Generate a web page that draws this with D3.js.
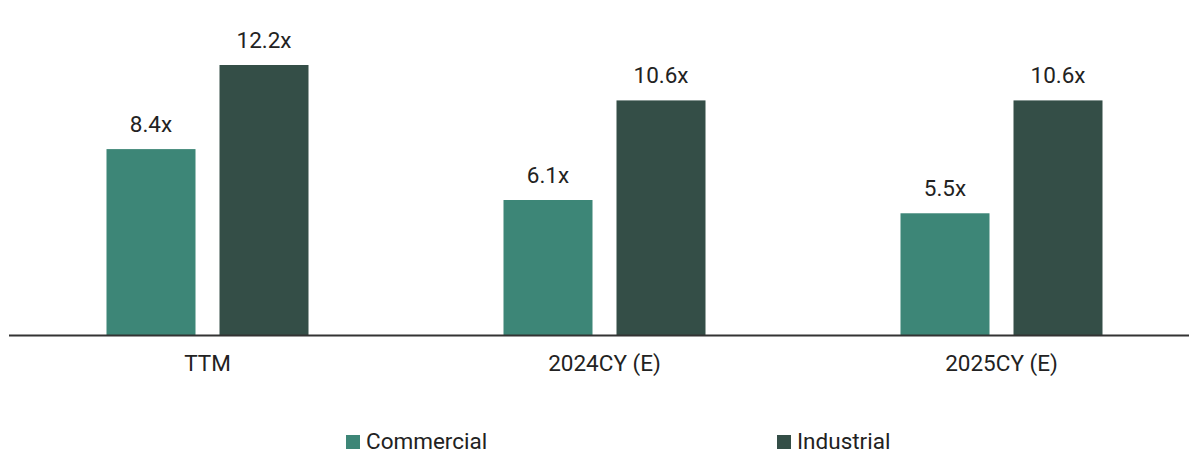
<!DOCTYPE html>
<html>
<head>
<meta charset="utf-8">
<script src="https://cdn.jsdelivr.net/npm/d3@7"></script>
<style>
  body { margin: 0; background: #fff; }
  svg { display: block; font-family: Roboto, "Noto Sans", sans-serif; }
</style>
</head>
<body>
<svg id="chart" width="1189" height="451"></svg>
<script>
// Valuation multiples by period
const categories = ["TTM", "2024CY (E)", "2025CY (E)"];
const seriesNames = ["Commercial", "Industrial"];
const commercial = [8.4, 6.1, 5.5];
const industrial = [12.2, 10.6, 10.6];
const colors = ["#3d8677", "#344e47"];

const svg = d3.select("#chart");
const baseY = 335;
const fontSize = 22.5;

const x = d3.scaleBand().domain(categories).range([9, 1200]).paddingInner(0).paddingOuter(0);
const xs = d3.scaleBand().domain(seriesNames)
  .range([x.bandwidth() / 2 - 101, x.bandwidth() / 2 + 101])
  .paddingInner(24 / 113).paddingOuter(0);
const y = d3.scaleLinear().domain([0, 12.2]).range([baseY, 65]);

const rows = categories.map((c, i) => ({ cat: c, vals: [commercial[i], industrial[i]] }));

const groups = svg.selectAll("g.grp").data(rows).join("g")
  .attr("class", "grp")
  .attr("transform", d => `translate(${x(d.cat)},0)`);

groups.selectAll("rect").data(d => d.vals.map((v, j) => ({ s: seriesNames[j], v, j })))
  .join("rect")
  .attr("x", d => xs(d.s))
  .attr("width", xs.bandwidth())
  .attr("y", d => y(d.v))
  .attr("height", d => baseY - y(d.v))
  .attr("fill", d => colors[d.j]);

groups.selectAll("text.val").data(d => d.vals.map((v, j) => ({ s: seriesNames[j], v })))
  .join("text")
  .attr("class", "val")
  .attr("x", d => xs(d.s) + xs.bandwidth() / 2)
  .attr("y", d => y(d.v) - 17)
  .attr("text-anchor", "middle")
  .attr("font-size", fontSize)
  .attr("fill", "#222")
  .text(d => d.v.toFixed(1) + "x");

// Baseline axis
const axis = svg.append("g").attr("transform", `translate(0,${baseY})`)
  .call(d3.axisBottom(x).tickSize(0).tickPadding(20).tickSizeOuter(0));
axis.select(".domain").remove();
axis.selectAll("text").attr("font-size", fontSize).attr("fill", "#222")
  .attr("font-family", "Roboto, sans-serif").attr("dy", "0.72em");
svg.append("line").attr("x1", 9).attr("x2", 1189).attr("y1", baseY + 0.5).attr("y2", baseY + 0.5)
  .attr("stroke", "#333").attr("stroke-width", 2);

// Legend
const legendX = [346, 777];
const legend = svg.selectAll("g.leg").data(seriesNames).join("g")
  .attr("class", "leg")
  .attr("transform", (d, i) => `translate(${legendX[i]},435)`);
legend.append("rect").attr("width", 14).attr("height", 14).attr("fill", (d, i) => colors[i]);
legend.append("text").attr("x", 20).attr("y", 14).attr("font-size", fontSize).attr("fill", "#222").text(d => d);
</script>
</body>
</html>
